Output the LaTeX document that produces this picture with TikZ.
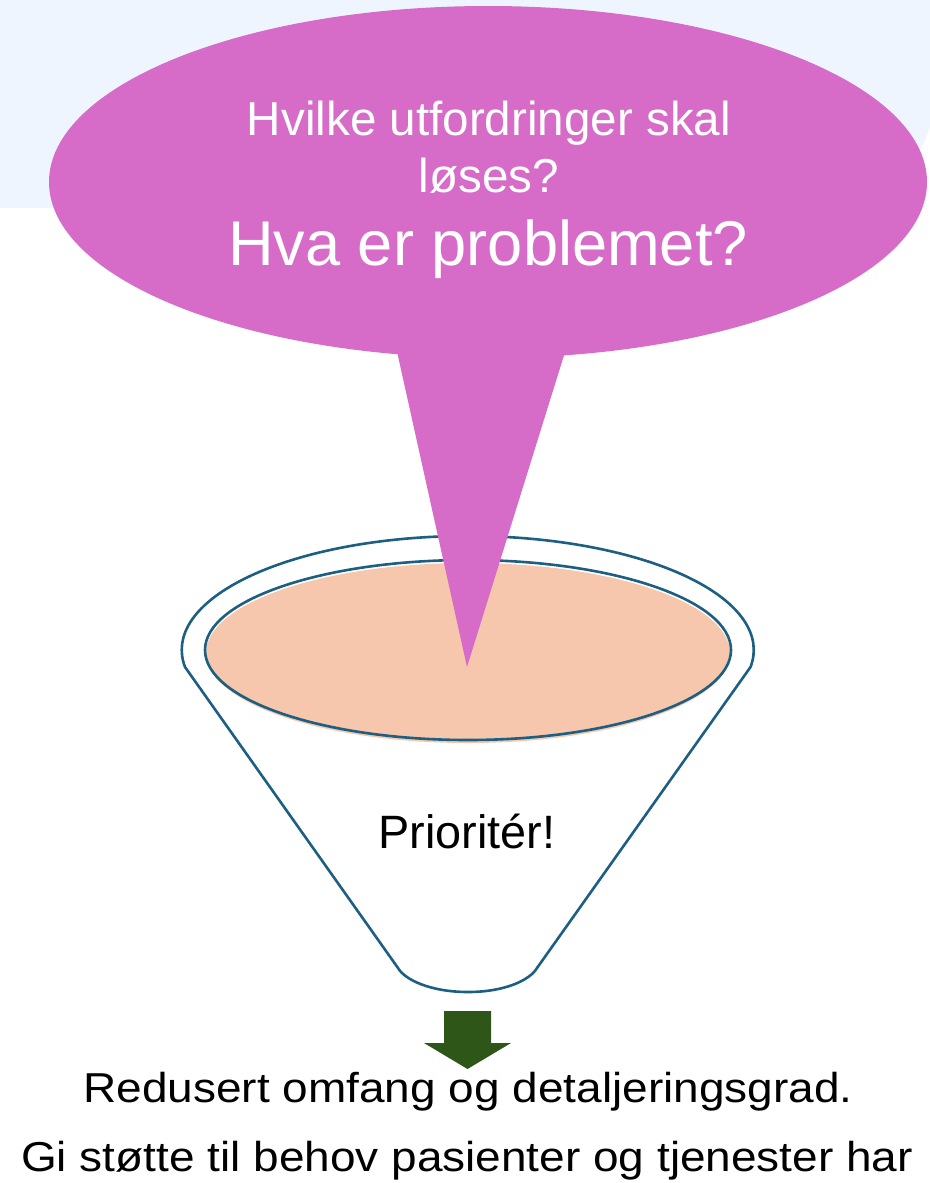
\documentclass[tikz,border=0pt]{standalone}
\usepackage{fontspec}
\setmainfont{Liberation Sans}
\newfontfamily\stretchfont[FakeStretch=1.1]{Liberation Sans}
\definecolor{bgblue}{RGB}{239,245,255}
\definecolor{bubblecol}{RGB}{214,108,200}
\definecolor{funnelblue}{RGB}{28,95,130}
\definecolor{peach}{RGB}{246,199,172}
\definecolor{arrowgreen}{RGB}{45,86,24}
\tikzset{
  funnelline/.style={draw=funnelblue, line width=1.3pt, line join=round},
  bubbletext/.style={text=white, inner sep=0pt, anchor=base},
  blacktext/.style={text=black, inner sep=0pt, anchor=base},
}
\begin{document}
\begin{tikzpicture}[x=0.5pt,y=-0.5pt]
\useasboundingbox (0,0) rectangle (930,1183);
% background panel
\fill[bgblue] (0,0) -- (935,0) -- (935,93) arc[start angle=0, end angle=-90, radius=57.5pt] -- (0,208) -- cycle;
% funnel body
\path[funnelline, fill=white] (185,667) arc[start angle=188.6, end angle=-8.6, x radius=143pt, y radius=57pt]
  -- (537,968) .. controls (530,980) and (505,992) .. (468,992)
  .. controls (431,992) and (405,980) .. (398,968) -- cycle;
% inner ellipse
\fill[peach] (468,653) ellipse[x radius=131pt, y radius=45pt];
\path[funnelline] (468,650) ellipse[x radius=131.5pt, y radius=45pt];
% speech bubble
\fill[bubblecol] (488,182) ellipse[x radius=219.5pt, y radius=88pt];
\fill[bubblecol] (390,320) -- (467,667) -- (575,320) -- cycle;
% texts in bubble
\node[bubbletext, font=\fontsize{23.8}{28}\selectfont] (q1) at (489,135) {Hvilke utfordringer skal};
\node[bubbletext, font=\fontsize{23.8}{28}\selectfont] (q2) at (489,192) {løses?};
\node[bubbletext, font=\fontsize{31.6}{36}\selectfont] (q3) at (488,265) {Hva er problemet?};
% funnel label
\node[blacktext, font=\fontsize{23.4}{28}\selectfont] (prio) at (467,848) {Prioritér!};
% arrow
\fill[arrowgreen] (444,1011) -- (491,1011) -- (491,1043) -- (511,1043) -- (467.5,1069) -- (424,1043) -- (444,1043) -- cycle;
% bottom texts
\node[blacktext, font=\fontsize{20.9}{25}\stretchfont] (r1) at (468,1102) {Redusert omfang og detaljeringsgrad.};
\node[blacktext, font=\fontsize{20.9}{25}\stretchfont] (r2) at (467,1171) {Gi støtte til behov pasienter og tjenester har};
\end{tikzpicture}
\end{document}
